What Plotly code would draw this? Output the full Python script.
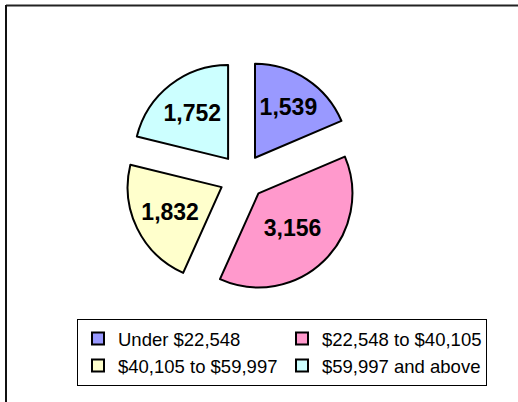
import plotly.graph_objects as go

labels = ["Under $22,548", "$22,548 to $40,105", "$40,105 to $59,997", "$59,997 and above"]
values = [1539, 3156, 1832, 1752]
colors = ["#9999FF", "#FF99CC", "#FFFFCC", "#CCFFFF"]

W, H = 518, 402
FONT = "Arial, Liberation Sans, sans-serif"

fig = go.Figure(go.Pie(
    labels=labels,
    values=values,
    sort=False,
    direction="clockwise",
    rotation=0,
    pull=[0.245] * 4,
    marker=dict(colors=colors, line=dict(color="#000000", width=2)),
    texttemplate="%{value:,}",
    textposition="inside",
    insidetextorientation="horizontal",
    insidetextfont=dict(family=FONT, size=23, color="#000000", weight="bold"),
    domain=dict(x=[125.3 / W, 359.3 / W], y=[1 - 294 / H, 1 - 60 / H]),
    hoverinfo="label+value",
))

fig.update_layout(
    width=W, height=H,
    margin=dict(l=0, r=0, t=0, b=0, autoexpand=False),
    paper_bgcolor="#FFFFFF",
    plot_bgcolor="#FFFFFF",
    font=dict(family=FONT, color="#000000"),
    showlegend=True,
    legend=dict(
        orientation="h",
        x=77 / W, xanchor="left",
        y=1 - 319 / H, yanchor="top",
        bordercolor="#000000", borderwidth=1,
        bgcolor="#FFFFFF",
        font=dict(family=FONT, size=18.5, color="#000000"),
        entrywidth=159, entrywidthmode="pixels",
        traceorder="normal",
    ),
    shapes=[
        dict(type="line", xref="paper", yref="paper",
             x0=6 / W, x1=1, y0=1 - 5.5 / H, y1=1 - 5.5 / H,
             line=dict(color="#222222", width=2)),
        dict(type="line", xref="paper", yref="paper",
             x0=6 / W, x1=6 / W, y0=0, y1=1 - 5 / H,
             line=dict(color="#111111", width=2)),
    ],
)

fig.write_html(
    "out.html",
    config={"displayModeBar": False},
    post_script="document.body.style.margin='0';document.body.style.overflow='hidden';",
)
